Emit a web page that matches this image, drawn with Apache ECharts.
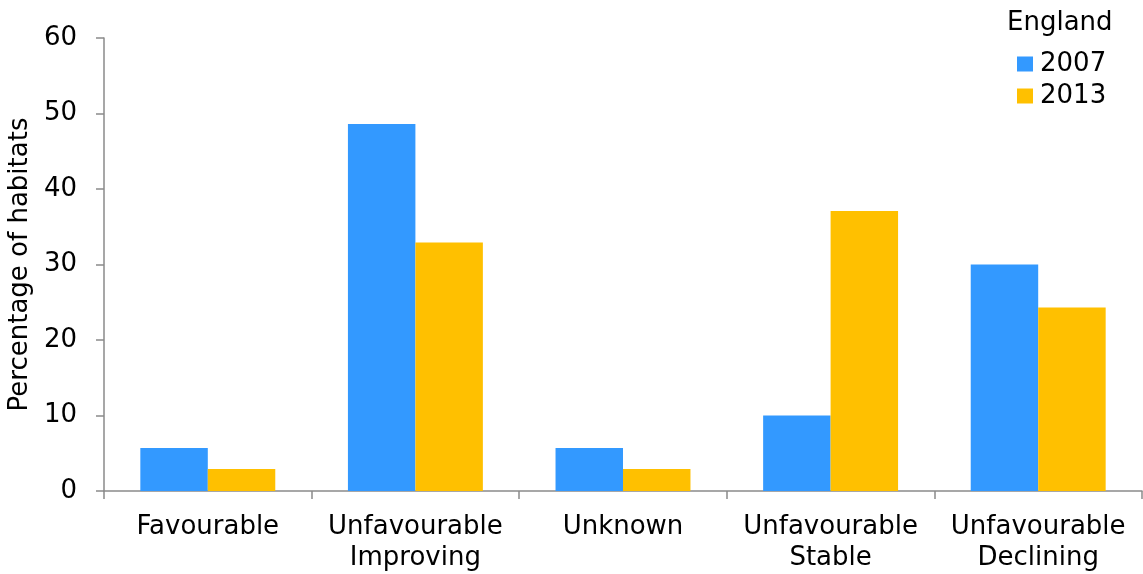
<!DOCTYPE html>
<html>
<head>
<meta charset="utf-8">
<script src="https://cdn.jsdelivr.net/npm/echarts@6/dist/echarts.min.js"></script>
<style>
  html, body { margin: 0; padding: 0; background: #fff; }
  #chart { width: 1143px; height: 574px; }
</style>
</head>
<body>
<div id="chart"></div>
<script>
// Habitat condition trend categories
const categories = [
  'Favourable',
  'Unfavourable\nImproving',
  'Unknown',
  'Unfavourable\nStable',
  'Unfavourable\nDeclining'
];
// Percentage of habitats in each category
const values2007 = [5.7, 48.6, 5.7, 10.0, 30.0];
const values2013 = [2.9, 32.9, 2.9, 37.1, 24.3];
const yTicks = { min: 0, max: 60, interval: 10 };

const FONT = 'DejaVu Sans';
const AXIS_GREY = '#8a8a8a';

const chart = echarts.init(document.getElementById('chart'), null, { renderer: 'canvas' });
chart.setOption({
  animation: false,
  backgroundColor: '#ffffff',
  textStyle: { fontFamily: FONT, color: '#000' },
  title: {
    text: 'England',
    left: 1007,
    top: 10,
    padding: 0,
    textStyle: { fontFamily: FONT, fontSize: 26, fontWeight: 'normal', color: '#000', lineHeight: 26 }
  },
  legend: {
    orient: 'vertical',
    left: 1017,
    top: 51,
    padding: 0,
    itemGap: 6,
    itemWidth: 16,
    itemHeight: 15,
    icon: 'rect',
    textStyle: { fontFamily: FONT, fontSize: 26, color: '#000', lineHeight: 26, padding: [0, 0, 0, 2] },
    data: ['2007', '2013']
  },
  grid: { left: 104, right: 1, top: 38, bottom: 83, containLabel: false, outerBoundsMode: 'none' },
  xAxis: {
    type: 'category',
    data: categories,
    axisLine: { lineStyle: { color: AXIS_GREY, width: 1.5 } },
    axisTick: { show: true, length: 8, lineStyle: { color: AXIS_GREY, width: 1.5 } },
    axisLabel: { interval: 0, margin: 21, fontFamily: FONT, fontSize: 26, lineHeight: 31, color: '#000', align: 'center' },
    splitLine: { show: false }
  },
  yAxis: {
    type: 'value',
    min: yTicks.min,
    max: yTicks.max,
    interval: yTicks.interval,
    name: 'Percentage of habitats',
    nameLocation: 'middle',
    nameGap: 66,
    nameTextStyle: { fontFamily: FONT, fontSize: 26, color: '#000' },
    axisLine: { show: true, lineStyle: { color: AXIS_GREY, width: 1.5 } },
    axisTick: { show: true, length: 8, lineStyle: { color: AXIS_GREY, width: 1.5 } },
    axisLabel: { margin: 27, fontFamily: FONT, fontSize: 26, color: '#000' },
    splitLine: { show: false }
  },
  series: [
    {
      name: '2007',
      type: 'bar',
      data: values2007,
      barGap: '0%',
      barCategoryGap: '35%',
      itemStyle: { color: '#3399ff' }
    },
    {
      name: '2013',
      type: 'bar',
      data: values2013,
      barGap: '0%',
      barCategoryGap: '35%',
      itemStyle: { color: '#ffc000' }
    }
  ]
});
</script>
</body>
</html>
